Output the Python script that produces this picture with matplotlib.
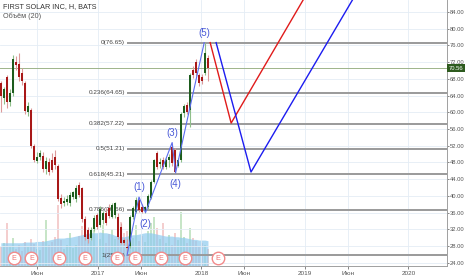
import numpy as np
import pandas as pd
import matplotlib
matplotlib.use("Agg")
import matplotlib.pyplot as plt
import matplotlib.dates as mdates
import matplotlib.transforms as mtransforms

plt.rcParams["font.family"] = ["Liberation Sans", "DejaVu Sans"]

# ── Datos: velas (O, H, L, C), volumen y su media de 20 ──────────────────────
opens = [67, 63.5, 68.5, 62.5, 64.6, 72, 71.5, 69.5, 67, 60,
         60.5, 52, 48.4, 49.3, 49.5, 46.5, 48.2, 48.5, 49.2, 47.2,
         39.5, 38.2, 38.5, 38.2, 39.6, 39.2, 42.5, 41.8, 34.4, 31.8,
         30, 32, 35.4, 33, 34.2, 36, 37.2, 35, 35.5, 35,
         32.5, 29.4, 27.8, 28, 35, 36.2, 39, 37.4, 36.4, 37.3,
         39.5, 43.3, 50.2, 47.5, 48.6, 47, 48.5, 51.7, 51, 47.2,
         48.6, 59.8, 61.7, 60.5, 70.2, 72, 68.8, 68.5, 69.4, 73]
highs = [67.5, 66, 69, 65.5, 73.7, 73.5, 74.2, 70.5, 67.5, 62.5,
         61, 52.5, 50.5, 51, 50.5, 49.2, 49, 50.2, 51, 47.5,
         40.5, 39.8, 40.2, 41, 41.2, 42.5, 43.4, 42.2, 35.2, 32.5,
         32.6, 35.5, 36, 37.5, 36.4, 37, 38, 38.2, 38.5, 35.8,
         33.4, 30, 29.6, 35.5, 37.6, 39.7, 39.6, 38, 37.6, 40.5,
         43.8, 48.8, 50.8, 49, 49.4, 49, 50, 52.75, 51.4, 49,
         60, 62, 62.4, 69.4, 71, 72.8, 69.4, 69.2, 76.65, 73.6]
lows = [60, 62, 61, 61.5, 64, 70, 67.5, 66.5, 59.5, 59,
        51.5, 48, 47.8, 48.5, 45.8, 45.2, 45, 45.6, 46.5, 38.8,
        37.2, 37.5, 37.8, 37.6, 39.2, 38.6, 39.6, 33.8, 29.5, 28.7,
        29.4, 31.5, 32, 32.5, 33.3, 33, 34.6, 34.6, 34.8, 29.6,
        28.4, 28.2, 25.77, 27.5, 34.5, 35.8, 36.2, 36, 36, 36.8,
        39.2, 43, 46.5, 46.6, 46.5, 46.4, 47, 47.2, 45.45, 46.8,
        48, 58.8, 59.5, 56.4, 68.2, 68.6, 66.2, 66.8, 68.8, 67.5]
closes = [64, 65.5, 62.5, 64.6, 72.8, 71.2, 68.4, 67.4, 60.2, 61.5,
          52, 48.6, 49.3, 50.3, 46.3, 48.4, 45.6, 46.2, 47.4, 39.2,
          38.1, 38.8, 39.2, 40.2, 40.8, 41.8, 40.2, 34.4, 30.2, 29.6,
          31.9, 34.8, 32.6, 36.8, 35.8, 33.6, 35.2, 37.8, 38.2, 30.2,
          28.8, 28.7, 27.6, 35, 37.2, 39, 36.6, 36.2, 37.3, 40,
          43.3, 48.6, 47, 48.2, 47, 48.5, 49.4, 47.8, 45.8, 48.6,
          59.6, 61.6, 60.1, 69, 69, 69.4, 67, 67.5, 74.2, 70.56]
volume = [2.8, 3.5, 6.4, 3.0, 4.2, 2.5, 3.1, 2.2, 3.6, 2.9,
          4.0, 3.3, 2.6, 2.4, 3.8, 6.9, 3.2, 3.6, 4.4, 9.2,
          3.9, 2.6, 3.2, 5.0, 2.7, 3.1, 4.5, 6.0, 5.2, 4.4,
          3.8, 5.5, 3.0, 4.1, 6.2, 3.5, 4.8, 5.6, 4.0, 5.8,
          6.6, 4.9, 5.3, 5.9, 4.2, 6.1, 3.8, 4.5, 3.6, 5.2,
          6.5, 7.4, 5.7, 4.1, 6.5, 3.4, 4.6, 3.2, 5.0, 3.9,
          8.1, 4.4, 3.5, 5.7, 4.2, 3.8, 2.9, 3.4, 3.1, 2.6]
volume_ma = [3.5, 3.5, 3.5, 3.5, 3.5, 3.5, 3.5, 3.5, 3.6, 3.6,
             3.6, 3.6, 3.7, 3.7, 3.7, 3.8, 3.9, 4.0, 4.1, 4.2,
             4.2, 4.2, 4.3, 4.3, 4.4, 4.5, 4.6, 4.7, 4.8, 4.9,
             5.0, 5.0, 5.0, 5.1, 5.0, 5.0, 4.9, 4.8, 4.6, 4.5,
             4.4, 4.4, 4.5, 4.6, 4.7, 4.7, 4.8, 4.9, 5.0, 5.0,
             5.0, 4.9, 4.8, 4.7, 4.6, 4.5, 4.5, 4.5, 4.4, 4.4,
             4.3, 4.3, 4.2, 4.1, 4.0, 4.0, 3.9, 3.9, 3.9, 3.8]
dates = pd.date_range("2016-01-25", periods=len(closes), freq="254h")

# ondas de Elliott y proyecciones
wave_dates = ["2017-04-14", "2017-05-26", "2017-06-18", "2017-09-20", "2017-10-02", "2018-01-11"]
wave_values = [25.77, 39.7, 36.0, 52.75, 45.45, 76.65]
wave_labels = ["", "(1)", "(2)", "(3)", "(4)", "(5)"]
red_dates = ["2018-02-01", "2018-04-16", "2019-01-15"]
red_values = [76.65, 57.4, 89.2]
blue_dates = ["2018-02-22", "2018-06-25", "2019-07-08"]
blue_values = [76.65, 45.7, 89.2]

# retrocesos de Fibonacci
fib_ratios = [0, 0.236, 0.382, 0.5, 0.618, 0.786, 1]
fib_values = [76.65, 64.65, 57.22, 51.21, 45.21, 36.66, 25.77]

earnings_dates = ["2016-03-12", "2016-05-12", "2016-08-18", "2016-11-17", "2017-03-08",
                  "2017-05-12", "2017-08-12", "2017-11-05", "2018-02-27"]
last_price = 70.56

tick_dates = ["2016-06-01", "2017-01-01", "2017-06-01", "2018-01-01",
              "2018-06-01", "2019-01-01", "2019-06-01", "2020-01-01"]
tick_labels = ["Июн", "2017", "Июн", "2018", "Июн", "2019", "Июн", "2020"]

# ── Figura ───────────────────────────────────────────────────────────────────
W, H = 466, 275
fig = plt.figure(figsize=(W / 100, H / 100), dpi=100)
rect = [0, 9 / H, 446.7 / W, 266 / H]
axv = fig.add_axes(rect, zorder=1)
ax = fig.add_axes(rect, zorder=2)
ax.set_facecolor("none")

tnum = lambda s: mdates.date2num(pd.to_datetime(s))
x = mdates.date2num(dates)
o, h, l, c = map(np.array, (opens, highs, lows, closes))
up = c >= o
x0, x1 = tnum("2016-01-22"), tnum("2020-05-15")

# volumen
axv.bar(x, volume, width=6.5, color=np.where(up, "#b9dfb9", "#f2c2c2"), alpha=0.8)
axv.fill_between(x, volume_ma, color="#8fcbef", alpha=0.7, lw=0)
axv.set_xlim(x0, x1); axv.set_ylim(0, 40)
axv.axis("off")

# rejilla
ax.set_xlim(x0, x1); ax.set_ylim(23.21, 86.85)
yt = np.arange(24, 85, 4)
ax.set_yticks(yt)
ax.set_yticklabels([f"{v:.2f}" for v in yt])
ax.set_xticks([tnum(d) for d in tick_dates])
ax.set_xticklabels(tick_labels)
ax.grid(True, color="#e4edf5", lw=0.6, zorder=0)
ax.yaxis.tick_right()
ax.tick_params(labelsize=4.6, colors="#555", length=2, width=0.5, pad=1.5)
ax.tick_params(axis="y", labelsize=4.2, length=1.5, pad=1)
for s in ("top", "left"):
    ax.spines[s].set_visible(False)
for s in ("right", "bottom"):
    ax.spines[s].set_color("#a0a0a0"); ax.spines[s].set_linewidth(0.7)

# precio actual
ax.axhline(last_price, color="#9db48a", lw=0.7, zorder=2)
ax.text(1.004, last_price, f"{last_price:.2f}", color="white", fontsize=4.2, ha="left", va="center",
        transform=mtransforms.blended_transform_factory(ax.transAxes, ax.transData), clip_on=False,
        bbox=dict(boxstyle="square,pad=0.25", fc="#2e5b1f", ec="none"), zorder=10)

# Fibonacci
fstart = tnum(wave_dates[0])
for r, v in zip(fib_ratios, fib_values):
    ax.hlines(v, fstart, x1, color="#9a9a9a", lw=1.4, zorder=2)
    ax.annotate(f"{r:g}({v:.2f})", (fstart, v), xytext=(-1.5, 0), textcoords="offset points",
                ha="right", va="center", fontsize=4.6, color="#444", zorder=3)

# velas
ax.vlines(x, l, h, colors=np.where(up, "#8fbf8a", "#dc9a9a"), lw=0.8, zorder=4)
ax.bar(x, np.maximum(np.abs(c - o), 0.15), bottom=np.minimum(o, c), width=6.5,
       color=np.where(up, "#1d5c1d", "#a81818"), zorder=5)

# ondas
wx = [tnum(d) for d in wave_dates]
ax.plot(wx, wave_values, color="#5a6cf0", lw=0.8, zorder=6)
for i, (xx, v, lab) in enumerate(zip(wx, wave_values, wave_labels)):
    if lab:
        dy = 7 if i % 2 else -8
        ax.annotate(lab, (xx, v), xytext=(0, dy), textcoords="offset points", ha="center",
                    va="center", fontsize=7, color="#4a5ad8", zorder=7)
ax.plot([tnum(d) for d in red_dates], red_values, color="#e01b1b", lw=1.0, zorder=6)
ax.plot([tnum(d) for d in blue_dates], blue_values, color="#1c1cf0", lw=1.0, zorder=6)

# eventos "E"
tr = mtransforms.blended_transform_factory(ax.transData, ax.transAxes)
for d in earnings_dates:
    ax.plot(tnum(d), 0.029, "o", ms=9, mfc="white", mec="#f28a8a", mew=1.0, transform=tr,
            clip_on=False, zorder=9)
    ax.text(tnum(d), 0.029, "E", color="#ef7373", fontsize=5.2, ha="center", va="center",
            transform=tr, zorder=10)

fig.text(3 / W, 1 - 7 / H, "FIRST SOLAR INC, H, BATS", fontsize=5.2, color="#333", va="center")
fig.text(3 / W, 1 - 16 / H, "Объём (20)", fontsize=5.2, color="#555", va="center")

fig.savefig("out.png", dpi=100)
